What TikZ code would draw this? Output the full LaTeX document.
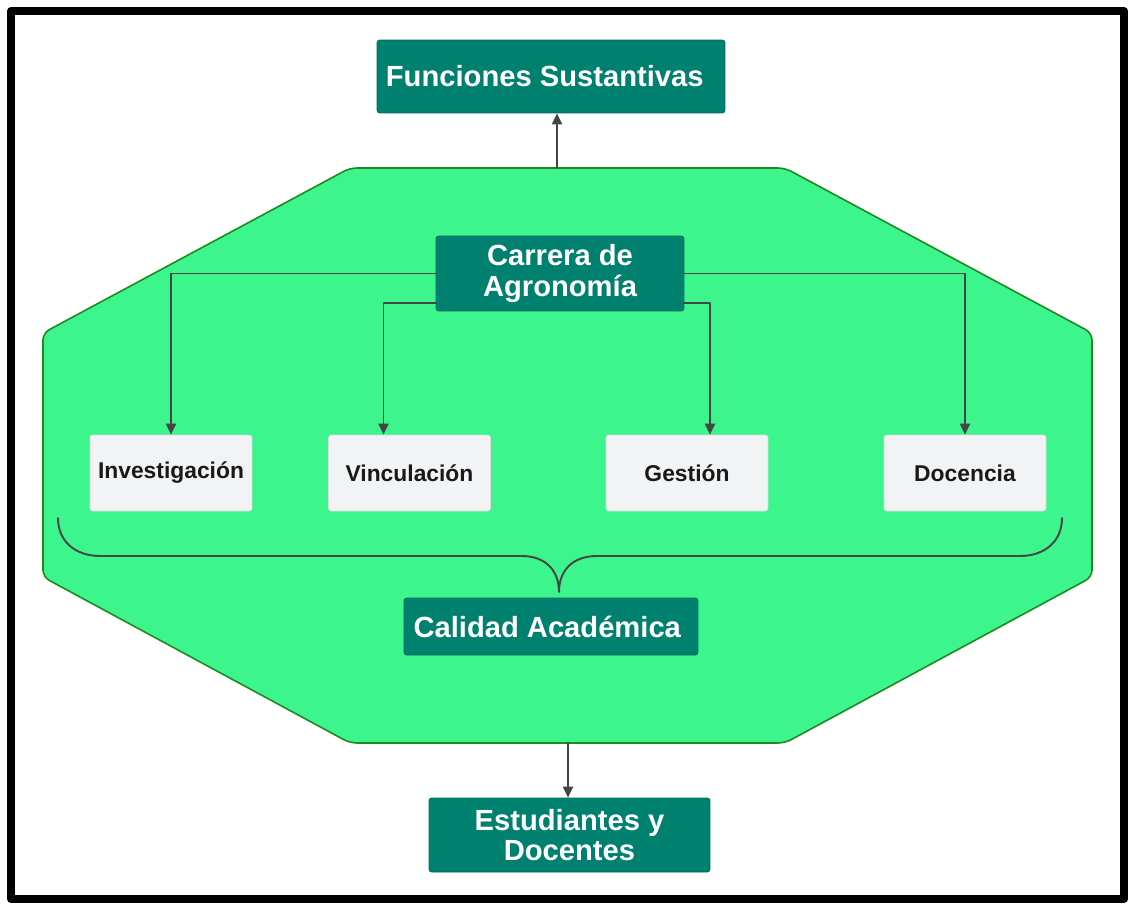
\documentclass[tikz,border=0pt]{standalone}
\usepackage{fontspec}
\setmainfont{Liberation Sans}
\usepackage{xcolor}
\usetikzlibrary{arrows.meta}
\usetikzlibrary{calc}

\definecolor{octgreen}{HTML}{3CF58C}
\definecolor{octedge}{HTML}{1E8A1E}
\definecolor{tealbox}{HTML}{00806F}
\definecolor{tealedge}{HTML}{006A5C}
\definecolor{grayfun}{HTML}{F2F3F5}
\definecolor{linkgray}{HTML}{454545}

\begin{document}
\begin{tikzpicture}[>={Triangle[length=2.2mm, width=2mm]}, line cap=round, line join=round,
    x=0.02cm, y=-0.02cm,
    tealnode/.style={draw=tealedge, fill=tealbox, rounded corners=1.5pt, inner sep=0pt,
        text=white, align=center, font=\fontsize{16.6}{17.5}\selectfont\bfseries},
    funnode/.style={draw=grayfun!90!black, fill=grayfun, rounded corners=1.5pt, inner sep=0pt,
        minimum width=3.24cm, minimum height=1.52cm,
        text=black!90, font=\fontsize{13}{14}\selectfont\bfseries},
    link/.style={draw=linkgray, line width=1.1pt}]

    \useasboundingbox (0,0) rectangle (1128,903);
    \fill[white] (0,0) rectangle (1128,903);

    % octagon
    \draw[octedge, fill=octgreen, line width=0.9pt, rounded corners=4pt]
        (350,168) -- (785,168) -- (1092,333) -- (1092,577) -- (785,743)
        -- (350,743) -- (43,577) -- (43,333) -- cycle;

    \coordinate (octtop) at (557,168);
    \coordinate (octbot) at (568,743);

    \node[tealnode, minimum width=6.96cm, minimum height=1.46cm] (fun) at (551,76.5)
        {Funciones Sustantivas\hspace{0.25cm}};
    \node[tealnode, minimum width=4.96cm, minimum height=1.5cm] (carrera) at (560,273.5)
        {Carrera de\\Agronomía};
    \node[tealnode, minimum width=5.88cm, minimum height=1.14cm] (calidad) at (551,626.5)
        {Calidad Académica\hspace{0.15cm}};
    \node[tealnode, minimum width=5.62cm, minimum height=1.48cm] (est) at (569.5,835)
        {Estudiantes y\\Docentes};

    \node[funnode] (inv) at (171,473) {Investigación};
    \node[funnode] (vin) at (409.5,473) {Vinculación};
    \node[funnode] (ges) at (687,473) {Gestión};
    \node[funnode] (doc) at (965,473) {Docencia};

    \draw[link, ->] (octtop) -- (octtop |- fun.south);
    \draw[link, ->] (octbot) -- (octbot |- est.north);

    \draw[link, ->] (carrera.west) -| (inv.north);
    \draw[link, ->] ($(carrera.south west)+(0,-8)$) -| ($(vin.north)+(-26,0)$);
    \draw[link, ->] ($(carrera.south east)+(0,-8)$) -| ($(ges.north)+(23,0)$);
    \draw[link, ->] (carrera.east) -| (doc.north);

    % brace
    \draw[link]
        (58,518) .. controls (58,542) and (76,556) .. (100,556) -- (522,556)
        .. controls (545,556) and (559,570) .. (559,592)
        .. controls (559,570) and (573,556) .. (597,556) -- (1020,556)
        .. controls (1044,556) and (1062,542) .. (1062,518);

    % frame
    \draw[black, line width=0.16cm] (11,11) rectangle (1124,899);

\end{tikzpicture}
\end{document}
